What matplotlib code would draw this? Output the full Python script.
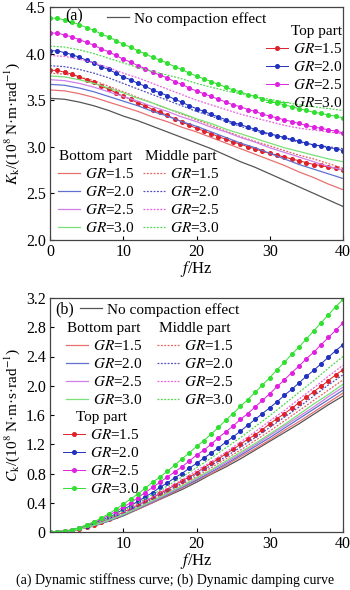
import numpy as np
import matplotlib.pyplot as plt

plt.rcParams['font.family'] = ['Liberation Serif', 'DejaVu Serif']
plt.rcParams['mathtext.fontset'] = 'stix'
plt.rcParams['font.size'] = 11

freq_1hz = np.arange(0, 41)
freq_2hz = np.arange(0, 41, 2)
gr_labels = [r'$GR$=1.5', r'$GR$=2.0', r'$GR$=2.5', r'$GR$=3.0']

# ---- (a) dynamic stiffness, 10^8 N*m/rad ----
k_none = [3.52, 3.51, 3.48, 3.44, 3.39, 3.33, 3.28, 3.22, 3.16, 3.10, 3.04,
          2.98, 2.91, 2.84, 2.78, 2.71, 2.64, 2.57, 2.50, 2.43, 2.36]
# bottom part (solid), every 2 Hz
k_bot_15 = [3.61, 3.60, 3.57, 3.53, 3.48, 3.43, 3.38, 3.32, 3.27, 3.21, 3.16,
            3.10, 3.04, 2.98, 2.92, 2.86, 2.80, 2.73, 2.67, 2.60, 2.54]
k_bot_20 = [3.67, 3.66, 3.63, 3.59, 3.54, 3.49, 3.44, 3.38, 3.33, 3.27, 3.22,
            3.16, 3.10, 3.04, 2.99, 2.93, 2.87, 2.81, 2.76, 2.71, 2.66]
k_bot_25 = [3.72, 3.71, 3.68, 3.64, 3.59, 3.54, 3.49, 3.43, 3.38, 3.32, 3.27,
            3.21, 3.16, 3.10, 3.05, 2.99, 2.94, 2.89, 2.84, 2.79, 2.75]
k_bot_30 = [3.76, 3.75, 3.72, 3.68, 3.63, 3.58, 3.52, 3.47, 3.41, 3.36, 3.30,
            3.25, 3.19, 3.14, 3.09, 3.04, 2.99, 2.95, 2.91, 2.87, 2.84]
# middle part (dotted), every 2 Hz
k_mid_15 = [3.79, 3.78, 3.75, 3.71, 3.65, 3.59, 3.53, 3.47, 3.41, 3.35, 3.29,
            3.23, 3.17, 3.11, 3.06, 3.01, 2.96, 2.91, 2.87, 2.82, 2.77]
k_mid_20 = [3.87, 3.86, 3.83, 3.79, 3.74, 3.68, 3.62, 3.56, 3.50, 3.44, 3.38,
            3.33, 3.27, 3.22, 3.17, 3.13, 3.09, 3.05, 3.02, 3.00, 2.98]
k_mid_25 = [3.98, 3.97, 3.94, 3.90, 3.85, 3.79, 3.74, 3.68, 3.62, 3.56, 3.50,
            3.45, 3.40, 3.35, 3.31, 3.27, 3.23, 3.20, 3.18, 3.16, 3.14]
k_mid_30 = [4.08, 4.07, 4.04, 4.00, 3.95, 3.90, 3.85, 3.81, 3.77, 3.73, 3.68,
            3.64, 3.60, 3.57, 3.54, 3.51, 3.48, 3.45, 3.43, 3.41, 3.39]
# top part (dots), every 1 Hz
k_top_15 = [3.82, 3.82, 3.80, 3.78, 3.75, 3.72, 3.69, 3.65, 3.62, 3.58, 3.54,
            3.51, 3.47, 3.44, 3.40, 3.37, 3.34, 3.30, 3.27, 3.23, 3.20,
            3.17, 3.14, 3.11, 3.08, 3.05, 3.03, 3.00, 2.98, 2.95, 2.93,
            2.91, 2.89, 2.87, 2.85, 2.83, 2.81, 2.80, 2.78, 2.77, 2.75]
k_top_20 = [4.03, 4.03, 4.01, 3.99, 3.96, 3.93, 3.90, 3.86, 3.83, 3.79, 3.75,
            3.72, 3.68, 3.65, 3.61, 3.58, 3.55, 3.51, 3.48, 3.44, 3.41,
            3.38, 3.35, 3.32, 3.29, 3.26, 3.24, 3.21, 3.19, 3.16, 3.14,
            3.12, 3.10, 3.08, 3.06, 3.04, 3.02, 3.01, 2.99, 2.98, 2.96]
k_top_25 = [4.22, 4.22, 4.20, 4.18, 4.15, 4.12, 4.09, 4.05, 4.02, 3.98, 3.94,
            3.91, 3.87, 3.84, 3.80, 3.77, 3.74, 3.70, 3.67, 3.63, 3.60,
            3.57, 3.54, 3.51, 3.48, 3.45, 3.43, 3.40, 3.38, 3.35, 3.33,
            3.31, 3.29, 3.27, 3.25, 3.23, 3.21, 3.20, 3.18, 3.17, 3.15]
k_top_30 = [4.38, 4.38, 4.36, 4.34, 4.31, 4.28, 4.25, 4.21, 4.18, 4.14, 4.10,
            4.07, 4.03, 4.00, 3.96, 3.93, 3.90, 3.86, 3.83, 3.79, 3.76,
            3.73, 3.70, 3.67, 3.64, 3.61, 3.59, 3.56, 3.54, 3.51, 3.49,
            3.47, 3.45, 3.43, 3.41, 3.39, 3.37, 3.36, 3.34, 3.33, 3.31]

# ---- (b) dynamic damping, 10^8 N*m*s/rad ----
c_none = [0, 0.01, 0.04, 0.08, 0.15, 0.22, 0.31, 0.40, 0.49, 0.58, 0.68,
          0.79, 0.89, 1.00, 1.12, 1.24, 1.36, 1.48, 1.61, 1.74, 1.86]
c_bot_15 = [0, 0.01, 0.04, 0.09, 0.15, 0.23, 0.31, 0.40, 0.50, 0.60, 0.70,
            0.80, 0.91, 1.03, 1.14, 1.26, 1.39, 1.51, 1.64, 1.77, 1.90]
c_bot_20 = [0, 0.01, 0.04, 0.09, 0.15, 0.23, 0.32, 0.41, 0.51, 0.61, 0.71,
            0.82, 0.93, 1.05, 1.17, 1.29, 1.42, 1.55, 1.68, 1.81, 1.94]
c_bot_25 = [0, 0.01, 0.04, 0.09, 0.16, 0.24, 0.33, 0.42, 0.52, 0.62, 0.73,
            0.84, 0.95, 1.07, 1.19, 1.32, 1.45, 1.58, 1.71, 1.85, 1.98]
c_bot_30 = [0, 0.01, 0.04, 0.09, 0.16, 0.24, 0.33, 0.43, 0.53, 0.63, 0.74,
            0.85, 0.97, 1.09, 1.21, 1.34, 1.47, 1.61, 1.75, 1.88, 2.02]
c_mid_15 = [0, 0.01, 0.04, 0.09, 0.16, 0.25, 0.34, 0.44, 0.54, 0.65, 0.76,
            0.88, 1.00, 1.12, 1.25, 1.38, 1.52, 1.66, 1.80, 1.94, 2.08]
c_mid_20 = [0, 0.01, 0.04, 0.10, 0.17, 0.26, 0.35, 0.46, 0.56, 0.67, 0.79,
            0.91, 1.03, 1.16, 1.29, 1.43, 1.57, 1.71, 1.86, 2.01, 2.15]
c_mid_25 = [0, 0.01, 0.04, 0.10, 0.18, 0.27, 0.38, 0.48, 0.60, 0.71, 0.84,
            0.96, 1.09, 1.23, 1.37, 1.52, 1.66, 1.82, 1.97, 2.13, 2.28]
c_mid_30 = [0, 0.01, 0.05, 0.11, 0.19, 0.29, 0.40, 0.51, 0.63, 0.75, 0.88,
            1.01, 1.15, 1.29, 1.44, 1.59, 1.75, 1.91, 2.07, 2.24, 2.40]
c_top_15 = [0, 0.00, 0.01, 0.02, 0.04, 0.07, 0.10, 0.14, 0.18, 0.22, 0.27,
            0.32, 0.37, 0.42, 0.47, 0.53, 0.58, 0.64, 0.70, 0.75, 0.81,
            0.88, 0.94, 1.00, 1.07, 1.13, 1.20, 1.27, 1.33, 1.40, 1.48,
            1.55, 1.62, 1.69, 1.77, 1.84, 1.92, 1.99, 2.07, 2.15, 2.22]
c_top_20 = [0, 0.00, 0.01, 0.03, 0.05, 0.08, 0.12, 0.16, 0.20, 0.25, 0.31,
            0.36, 0.42, 0.48, 0.54, 0.61, 0.67, 0.74, 0.80, 0.87, 0.94,
            1.01, 1.08, 1.15, 1.23, 1.30, 1.38, 1.46, 1.54, 1.62, 1.70,
            1.78, 1.87, 1.95, 2.04, 2.13, 2.21, 2.30, 2.39, 2.48, 2.56]
c_top_25 = [0, 0.00, 0.01, 0.03, 0.05, 0.09, 0.13, 0.17, 0.23, 0.28, 0.34,
            0.40, 0.47, 0.54, 0.61, 0.68, 0.75, 0.82, 0.89, 0.97, 1.05,
            1.12, 1.20, 1.29, 1.37, 1.45, 1.54, 1.62, 1.71, 1.80, 1.89,
            1.99, 2.08, 2.18, 2.27, 2.37, 2.46, 2.56, 2.66, 2.76, 2.86]
c_top_30 = [0, 0.00, 0.01, 0.03, 0.06, 0.10, 0.14, 0.19, 0.25, 0.31, 0.38,
            0.45, 0.52, 0.60, 0.68, 0.75, 0.83, 0.91, 1.00, 1.08, 1.17,
            1.25, 1.34, 1.43, 1.53, 1.62, 1.72, 1.81, 1.91, 2.01, 2.11,
            2.22, 2.32, 2.43, 2.53, 2.64, 2.75, 2.86, 2.97, 3.08, 3.18]

col_top = ['#e02028', '#2030c0', '#e020e0', '#30e030']
col_bot = ['#e87070', '#6070d0', '#d080e8', '#78e078']
col_mid = ['#e86060', '#5050c0', '#e860e0', '#50d850']
col_none = '#555555'

W, H = 350, 590


def px(x, y):
    return (x / W, 1 - y / H)


fig = plt.figure(figsize=(W / 100, H / 100), dpi=100)
ax1 = fig.add_axes([50 / W, 1 - 240 / H, 293 / W, 233 / H])
ax2 = fig.add_axes([50 / W, 1 - 532 / H, 293 / W, 234 / H])

leg_kw = dict(loc='upper left', bbox_transform=fig.transFigure, frameon=False,
              borderpad=0, borderaxespad=0, handlelength=1.45,
              handletextpad=0.3, labelspacing=0.26, fontsize=11,
              title_fontsize=11)


def draw_panel(ax, none, bots, mids, tops):
    h_none, = ax.plot(freq_2hz, none, color=col_none, lw=0.9)
    h_bot, h_mid, h_top = [], [], []
    for i in range(4):
        h, = ax.plot(freq_2hz, bots[i], color=col_bot[i], lw=0.9)
        h_bot.append(h)
        h, = ax.plot(freq_2hz, mids[i], color=col_mid[i], lw=0.9,
                     ls=(0, (1.5, 1.2)))
        h_mid.append(h)
        h, = ax.plot(freq_1hz, tops[i], color=col_top[i], lw=0.7,
                     marker='o', ms=2.6, mec=col_top[i], mfc=col_top[i])
        h_top.append(h)
    ax.set_xlim(0, 40)
    ax.tick_params(direction='in', length=3, labelsize=11.5, top=False,
                   right=False, pad=3)
    for s in ax.spines.values():
        s.set_color('#444444')
        s.set_linewidth(0.9)
    ax.set_xlabel(r'$f$/Hz', fontsize=12, labelpad=-1)
    return h_none, h_bot, h_mid, h_top


# panel (a)
h_none, h_bot, h_mid, h_top = draw_panel(
    ax1, k_none,
    [k_bot_15, k_bot_20, k_bot_25, k_bot_30],
    [k_mid_15, k_mid_20, k_mid_25, k_mid_30],
    [k_top_15, k_top_20, k_top_25, k_top_30])
ax1.set_ylim(2.0, 4.5)
ax1.set_yticks([2.0, 2.5, 3.0, 3.5, 4.0, 4.5])
ax1.set_xticks([0, 10, 20, 30, 40])
ax1.set_ylabel(r'$K_{\rm k}$/(10$^8$ N·m·rad$^{-1}$)', fontsize=11, labelpad=3)
fig.text(*px(65, 16), '(a)', fontsize=11.5, va='center')
fig.legend([h_none], ['No compaction effect'], bbox_to_anchor=px(107, 12), **leg_kw)
fig.legend(h_top, gr_labels, title='Top part', alignment='right',
           **{**leg_kw, 'loc': 'upper right'}, bbox_to_anchor=px(342, 25))
fig.legend(h_bot, gr_labels, title='Bottom part', bbox_to_anchor=px(58, 150), **leg_kw)
fig.legend(h_mid, gr_labels, title='Middle part', bbox_to_anchor=px(143, 150), **leg_kw)

# panel (b)
h_none, h_bot, h_mid, h_top = draw_panel(
    ax2, c_none,
    [c_bot_15, c_bot_20, c_bot_25, c_bot_30],
    [c_mid_15, c_mid_20, c_mid_25, c_mid_30],
    [c_top_15, c_top_20, c_top_25, c_top_30])
ax2.set_ylim(0, 3.2)
ax2.set_yticks([0, 0.4, 0.8, 1.2, 1.6, 2.0, 2.4, 2.8, 3.2])
ax2.set_yticklabels(['0', '0.4', '0.8', '1.2', '1.6', '2.0', '2.4', '2.8', '3.2'])
ax2.set_xticks([10, 20, 30, 40])
ax2.set_ylabel(r'$C_{\rm k}$/(10$^8$ N·m·s·rad$^{-1}$)', fontsize=11, labelpad=3)
fig.text(*px(55, 309), '(b)', fontsize=11.5, va='center')
fig.legend([h_none], ['No compaction effect'], bbox_to_anchor=px(80, 303), **leg_kw)
fig.legend(h_bot, gr_labels, title='Bottom part', bbox_to_anchor=px(66, 322), **leg_kw)
fig.legend(h_mid, gr_labels, title='Middle part', bbox_to_anchor=px(157, 322), **leg_kw)
fig.legend(h_top, gr_labels, title='Top part', bbox_to_anchor=px(63, 411), **leg_kw)

fig.text(*px(175, 580), '(a) Dynamic stiffness curve; (b) Dynamic damping curve',
         fontsize=10, ha='center', va='center')

fig.savefig('out.png', dpi=100)
